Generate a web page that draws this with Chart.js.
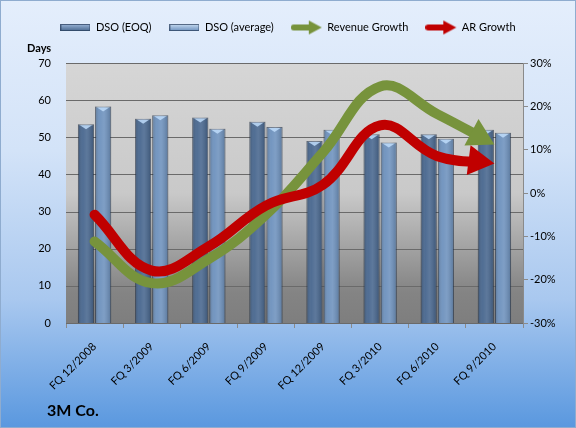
<!DOCTYPE html>
<html>
<head>
<meta charset="utf-8">
<script src="https://cdn.jsdelivr.net/npm/chart.js@4.4.1/dist/chart.umd.min.js"></script>
<style>
  html, body { margin: 0; padding: 0; }
  #wrap {
    width: 574px; height: 426px;
    border: 1px solid #8faccf;
    background: linear-gradient(to bottom, #e4eefc 0%, #d3e3f8 35%, #a9c8ef 70%, #5a98df 100%);
  }
  canvas { display: block; }
</style>
</head>
<body>
<div id="wrap"><canvas id="myChart" width="574" height="426"></canvas></div>
<script>
const quarters = ['FQ 12/2008', 'FQ 3/2009', 'FQ 6/2009', 'FQ 9/2009', 'FQ 12/2009', 'FQ 3/2010', 'FQ 6/2010', 'FQ 9/2010'];
const dsoEoq = [53.5, 55.0, 55.3, 54.2, 49.0, 50.8, 50.8, 52.0];
const dsoAvg = [58.3, 55.9, 52.3, 52.8, 52.0, 48.6, 49.6, 51.2];
const revenueGrowth = [-11.2, -20.8, -15.2, -5.0, 9.4, 24.6, 18.2, 11.2];
const arGrowth = [-5.0, -17.9, -12.3, -2.9, 1.9, 15.6, 8.5, 6.8];

const FONT = 'Lato, "Liberation Sans", sans-serif';
const GREEN = '#77933c';
const RED = '#c00000';

// legend icons
function barIcon(c1, c2) {
  const cv = document.createElement('canvas');
  cv.width = 30; cv.height = 7;
  const g = cv.getContext('2d');
  const gr = g.createLinearGradient(0, 0, 0, 7);
  gr.addColorStop(0, c2);
  gr.addColorStop(1, c1);
  g.fillStyle = gr;
  g.fillRect(0, 0, 30, 7);
  g.strokeStyle = 'rgba(40,60,90,0.7)';
  g.strokeRect(0.5, 0.5, 29, 6);
  return cv;
}
function arrowIcon(col) {
  const cv = document.createElement('canvas');
  cv.width = 32; cv.height = 16;
  const g = cv.getContext('2d');
  g.strokeStyle = col; g.lineWidth = 6; g.lineCap = 'round';
  g.beginPath(); g.moveTo(3, 8); g.lineTo(20, 8); g.stroke();
  g.fillStyle = col;
  g.beginPath(); g.moveTo(18, 1); g.lineTo(31, 8); g.lineTo(18, 15); g.closePath(); g.fill();
  return cv;
}
const icons = [barIcon('#4a6990', '#9bb6d8'), barIcon('#6d91bd', '#c8dcf3'), arrowIcon(GREEN), arrowIcon(RED)];

// extra room under the legend, before the plot
const legendGap = {
  id: 'legendGap',
  beforeLayout(chart) {
    const lg = chart.legend;
    if (lg && !lg._gapDone) {
      const fit = lg.fit;
      lg.fit = function () { fit.call(this); this.height += 20; };
      lg._gapDone = true;
    }
  }
};

const plotBg = {
  id: 'plotBg',
  beforeDatasetsDraw(chart) {
    const a = chart.chartArea, c = chart.ctx;
    const gr = c.createLinearGradient(0, a.top, 0, a.bottom);
    gr.addColorStop(0, '#d6d6d6');
    gr.addColorStop(0.5, '#c9c9c9');
    gr.addColorStop(0.68, '#a8a8a8');
    gr.addColorStop(0.88, '#848484');
    gr.addColorStop(1, '#7e7e7e');
    c.save();
    c.fillStyle = gr;
    c.fillRect(a.left, a.top, a.right - a.left, a.bottom - a.top);
    const y = chart.scales.y;
    c.strokeStyle = '#6a6a6a'; c.lineWidth = 1;
    y.ticks.forEach(t => {
      const py = Math.round(y.getPixelForValue(t.value)) + 0.5;
      c.beginPath(); c.moveTo(a.left, py); c.lineTo(a.right, py); c.stroke();
    });
    c.restore();
  }
};

const barShade = {
  id: 'barShade',
  afterDatasetDraw(chart, args) {
    const meta = args.meta;
    if (meta.type !== 'bar') return;
    const c = chart.ctx;
    c.save();
    meta.data.forEach(el => {
      const p = el.getProps(['x', 'y', 'base', 'width'], true);
      const l = p.x - p.width / 2, r = p.x + p.width / 2;
      const gr = c.createLinearGradient(l, 0, r, 0);
      gr.addColorStop(0, 'rgba(0,0,0,0.22)');
      gr.addColorStop(0.3, 'rgba(255,255,255,0.05)');
      gr.addColorStop(0.55, 'rgba(255,255,255,0.12)');
      gr.addColorStop(1, 'rgba(0,0,0,0.18)');
      c.fillStyle = gr;
      c.fillRect(l, p.y, p.width, p.base - p.y);
      c.fillStyle = 'rgba(190,220,250,0.85)';
      c.beginPath();
      c.moveTo(l + 2, p.y + 1);
      c.lineTo(r - 2, p.y + 1);
      c.lineTo(p.x, p.y + 5);
      c.closePath();
      c.fill();
    });
    c.restore();
  }
};

// arrow heads: tip sits on the last point, line is clipped behind the head
const HEAD_LEN = 26, HEAD_HALF = 15;
function endDir(meta) {
  const pts = meta.data;
  const last = pts[pts.length - 1];
  let dx = last.x - last.cp1x, dy = last.y - last.cp1y;
  if (!isFinite(dx) || !isFinite(dy) || (dx === 0 && dy === 0)) {
    const prev = pts[pts.length - 2];
    dx = last.x - prev.x; dy = last.y - prev.y;
  }
  const len = Math.hypot(dx, dy);
  return { last, ux: dx / len, uy: dy / len };
}
const arrowHeads = {
  id: 'arrowHeads',
  beforeDatasetDraw(chart, args) {
    if (args.meta.type !== 'line') return;
    const { last, ux, uy } = endDir(args.meta);
    const bx = last.x - ux * (HEAD_LEN - 4), by = last.y - uy * (HEAD_LEN - 4);
    const c = chart.ctx, B = 3000;
    c.save();
    c.beginPath();
    c.moveTo(bx - uy * B, by + ux * B);
    c.lineTo(bx + uy * B, by - ux * B);
    c.lineTo(bx + uy * B - ux * B, by - ux * B - uy * B);
    c.lineTo(bx - uy * B - ux * B, by + ux * B - uy * B);
    c.closePath();
    c.clip();
  },
  afterDatasetDraw(chart, args) {
    if (args.meta.type !== 'line') return;
    const c = chart.ctx;
    c.restore();
    const { last, ux, uy } = endDir(args.meta);
    const bx = last.x - ux * HEAD_LEN, by = last.y - uy * HEAD_LEN;
    c.save();
    c.fillStyle = chart.data.datasets[args.index].borderColor;
    c.beginPath();
    c.moveTo(last.x, last.y);
    c.lineTo(bx - uy * HEAD_HALF, by + ux * HEAD_HALF);
    c.lineTo(bx + uy * HEAD_HALF, by - ux * HEAD_HALF);
    c.closePath();
    c.fill();
    c.restore();
  }
};

const labels = {
  id: 'labels',
  afterDraw(chart) {
    const c = chart.ctx;
    c.save();
    c.fillStyle = '#000';
    c.textBaseline = 'middle';
    c.font = 'bold 11px ' + FONT;
    c.fillText('Days', 26, 47);
    c.font = 'bold 16px ' + FONT;
    c.fillText('3M Co.', 46, 410);
    c.restore();
  }
};

const ctx = document.getElementById('myChart');

new Chart(ctx, {
  data: {
    labels: quarters,
    datasets: [{
      type: 'bar',
      label: 'DSO (EOQ)',
      data: dsoEoq,
      yAxisID: 'y',
      backgroundColor: '#47668e',
      borderColor: 'rgba(40,60,90,0.6)',
      borderWidth: 1,
      barPercentage: 0.94,
      categoryPercentage: 0.6,
      order: 2
    }, {
      type: 'bar',
      label: 'DSO (average)',
      data: dsoAvg,
      yAxisID: 'y',
      backgroundColor: '#6d91bd',
      borderColor: 'rgba(40,60,90,0.6)',
      borderWidth: 1,
      barPercentage: 0.94,
      categoryPercentage: 0.6,
      order: 2
    }, {
      type: 'line',
      label: 'Revenue Growth',
      data: revenueGrowth,
      yAxisID: 'y1',
      borderColor: GREEN,
      borderWidth: 10,
      borderCapStyle: 'round',
      pointRadius: 0,
      tension: 0.4,
      order: 1
    }, {
      type: 'line',
      label: 'AR Growth',
      data: arGrowth,
      yAxisID: 'y1',
      borderColor: RED,
      borderWidth: 10,
      borderCapStyle: 'round',
      pointRadius: 0,
      tension: 0.4,
      order: 0
    }]
  },
  options: {
    responsive: false,
    animation: false,
    layout: { padding: { top: 3, left: 0, right: 0, bottom: 0 } },
    plugins: {
      tooltip: { enabled: false },
      legend: {
        position: 'top',
        labels: {
          usePointStyle: true,
          pointStyleWidth: 30,
          boxHeight: 11,
          padding: 18,
          color: '#000',
          font: { family: FONT, size: 11 },
          sort: (a, b) => a.datasetIndex - b.datasetIndex,
          generateLabels(chart) {
            const items = Chart.defaults.plugins.legend.labels.generateLabels(chart);
            items.forEach(it => { it.pointStyle = icons[it.datasetIndex]; });
            return items;
          }
        }
      }
    },
    scales: {
      x: {
        offset: true,
        grid: { offset: true, drawOnChartArea: false, tickLength: 5, color: '#8a8a8a' },
        border: { color: '#8a8a8a' },
        ticks: { minRotation: 45, maxRotation: 45, padding: 12, color: '#000', font: { family: FONT, size: 11 } },
        afterFit(s) { s.height = 104; }
      },
      y: {
        position: 'left',
        min: 0, max: 70,
        ticks: { stepSize: 10, padding: 7, color: '#000', font: { family: FONT, size: 11 } },
        grid: { display: false },
        border: { display: false },
        afterFit(s) { s.width = 65; }
      },
      y1: {
        position: 'right',
        min: -30, max: 30,
        ticks: { stepSize: 10, padding: 2, color: '#000', font: { family: FONT, size: 11 }, callback: v => v + '%' },
        grid: { drawOnChartArea: false, tickLength: 5, color: '#8a8a8a' },
        border: { color: '#8a8a8a' },
        afterFit(s) { s.width = 52; }
      }
    }
  },
  plugins: [legendGap, plotBg, barShade, arrowHeads, labels]
});
</script>
</body>
</html>
